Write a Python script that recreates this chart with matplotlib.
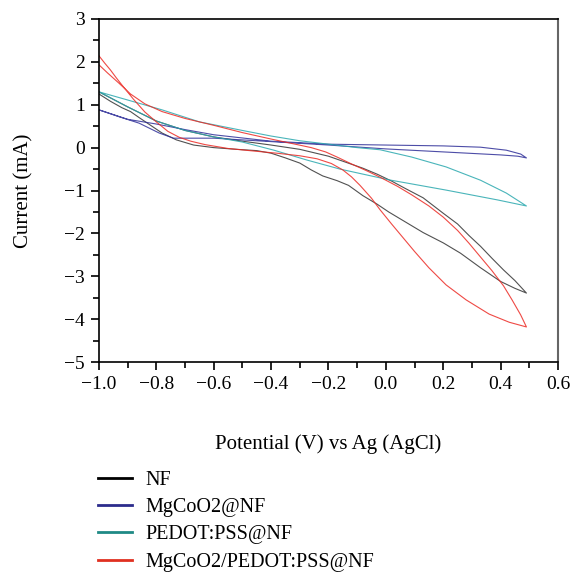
import numpy as np
import matplotlib.pyplot as plt
from matplotlib.ticker import MultipleLocator

plt.rcParams['font.family'] = ['Liberation Serif', 'DejaVu Serif']

# NF
nf_v = [-1.00, -0.96, -0.92, -0.89, -0.86, -0.82, -0.78, -0.73, -0.67, -0.60, -0.52, -0.45,
        -0.40, -0.35, -0.30, -0.26, -0.22, -0.17, -0.13, -0.08, -0.03, 0.01, 0.07, 0.13,
        0.20, 0.26, 0.33, 0.40, 0.45, 0.49,
        0.45, 0.41, 0.37, 0.33, 0.29, 0.25, 0.20, 0.13, 0.07, 0.02, -0.03, -0.08, -0.14,
        -0.20, -0.30, -0.40, -0.50, -0.60, -0.70, -0.80, -0.90, -1.00]
nf_i = [1.25, 1.08, 0.93, 0.84, 0.70, 0.52, 0.34, 0.18, 0.06, 0.00, -0.04, -0.07,
        -0.13, -0.24, -0.36, -0.52, -0.66, -0.77, -0.88, -1.12, -1.32, -1.50, -1.74, -1.98,
        -2.22, -2.46, -2.80, -3.12, -3.28, -3.39,
        -3.10, -2.85, -2.58, -2.30, -2.05, -1.78, -1.53, -1.17, -0.96, -0.78, -0.62, -0.48,
        -0.34, -0.20, -0.04, 0.06, 0.15, 0.25, 0.40, 0.62, 0.95, 1.30]

# MgCoO2@NF
mg_v = [-1.00, -0.93, -0.86, -0.79, -0.74, -0.60, -0.50, -0.35, -0.20, 0.00, 0.20, 0.40,
        0.46, 0.49,
        0.47, 0.42, 0.33, 0.20, 0.00, -0.20, -0.40, -0.60, -0.70, -0.80, -0.90, -1.00]
mg_i = [0.88, 0.72, 0.57, 0.34, 0.22, 0.22, 0.18, 0.12, 0.06, -0.03, -0.10, -0.17,
        -0.20, -0.24,
        -0.15, -0.06, 0.01, 0.04, 0.06, 0.08, 0.15, 0.30, 0.42, 0.55, 0.66, 0.88]

# PEDOT:PSS@NF
pe_v = [-1.00, -0.90, -0.78, -0.65, -0.50, -0.40, -0.30, -0.20, -0.10, -0.02, 0.09, 0.21,
        0.33, 0.42, 0.49,
        0.39, 0.21, 0.01, -0.16, -0.275, -0.39, -0.50, -0.60, -0.70, -0.80, -0.90, -1.00]
pe_i = [1.30, 1.11, 0.88, 0.60, 0.40, 0.27, 0.16, 0.08, 0.00, -0.05, -0.22, -0.45,
        -0.76, -1.06, -1.36,
        -1.22, -0.99, -0.75, -0.50, -0.29, -0.06, 0.13, 0.25, 0.40, 0.62, 0.95, 1.30]

# MgCoO2/PEDOT:PSS@NF
mp_v = [-1.00, -0.98, -0.96, -0.94, -0.92, -0.88, -0.84, -0.80, -0.76, -0.72, -0.68, -0.63,
        -0.55, -0.46, -0.38, -0.30, -0.24, -0.19, -0.15, -0.12, -0.09, -0.05, -0.02, 0.02,
        0.06, 0.10, 0.15, 0.21, 0.28, 0.36, 0.43, 0.49,
        0.47, 0.44, 0.41, 0.37, 0.33, 0.29, 0.25, 0.20, 0.15, 0.09, 0.04, -0.02, -0.07,
        -0.12, -0.17, -0.21, -0.26, -0.33, -0.40, -0.50, -0.60, -0.70, -0.78, -0.84, -0.89,
        -0.93, -0.97, -1.00]
mp_i = [2.14, 1.97, 1.81, 1.63, 1.46, 1.13, 0.83, 0.60, 0.38, 0.24, 0.15, 0.07,
        -0.02, -0.08, -0.13, -0.19, -0.26, -0.37, -0.52, -0.68, -0.88, -1.18, -1.45, -1.78,
        -2.10, -2.42, -2.80, -3.20, -3.55, -3.88, -4.07, -4.18,
        -3.90, -3.55, -3.22, -2.87, -2.55, -2.23, -1.93, -1.62, -1.36, -1.10, -0.90, -0.69,
        -0.53, -0.38, -0.22, -0.10, 0.00, 0.10, 0.20, 0.35, 0.52, 0.68, 0.84, 1.02, 1.25,
        1.50, 1.74, 1.93]

labels = ["NF", "MgCoO2@NF", "PEDOT:PSS@NF", "MgCoO2/PEDOT:PSS@NF"]
colors = ["#333333", "#2e2e98", "#2aa8ae", "#ec2a24"]
leg_colors = ["#000000", "#2c2c8c", "#1f8a85", "#e03020"]

fig = plt.figure(figsize=(5.72, 5.73), dpi=100)
ax = fig.add_axes([0.173, 0.368, 0.8025, 0.599])

for v, i, c, lab in zip([nf_v, mg_v, pe_v, mp_v], [nf_i, mg_i, pe_i, mp_i], colors, labels):
    ax.plot(v, i, color=c, lw=0.8, alpha=0.85, label=lab)

ax.set_xlim(-1.0, 0.6)
ax.set_ylim(-5, 3)
ax.xaxis.set_major_locator(MultipleLocator(0.2))
ax.xaxis.set_minor_locator(MultipleLocator(0.1))
ax.yaxis.set_major_locator(MultipleLocator(1))
ax.yaxis.set_minor_locator(MultipleLocator(0.5))
ax.tick_params(which='major', direction='out', length=6, width=1.2, labelsize=14, pad=4)
ax.tick_params(which='minor', direction='out', length=4, width=1.2)

for s in ['left', 'bottom', 'top']:
    ax.spines[s].set_linewidth(1.2)
    ax.spines[s].set_color('black')
ax.spines['right'].set_linewidth(1.5)
ax.spines['right'].set_color('#666666')

ax.set_xlabel("Potential (V) vs Ag (AgCl)", fontsize=15, labelpad=30)
ax.set_ylabel("Current (mA)", fontsize=15, labelpad=22)

handles, labs = ax.get_legend_handles_labels()
leg = fig.legend(handles, labs, loc='upper left', bbox_to_anchor=(0.171, 0.178),
                 frameon=False, fontsize=14.5, handlelength=1.7, handletextpad=0.65,
                 labelspacing=0.40, borderpad=0, borderaxespad=0)
for h, c in zip(leg.get_lines(), leg_colors):
    h.set_linewidth(2)
    h.set_alpha(1)
    h.set_color(c)

plt.savefig("out.png", dpi=100)
